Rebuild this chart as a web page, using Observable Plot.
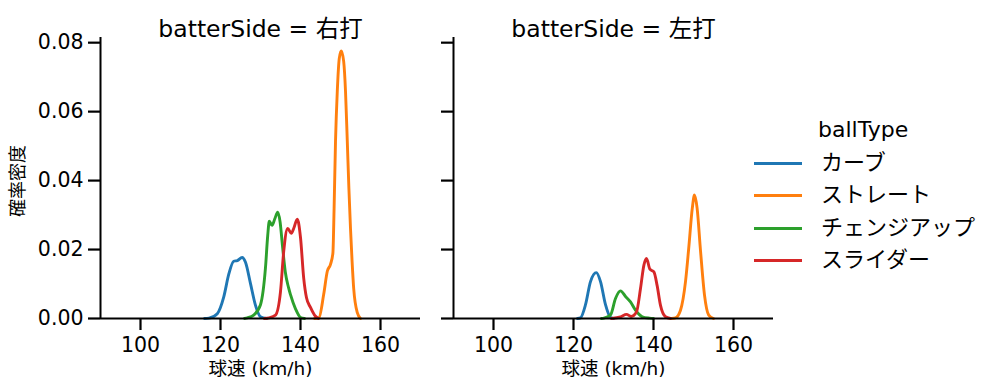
<!DOCTYPE html>
<html><head><meta charset="utf-8">
<script src="https://cdn.jsdelivr.net/npm/d3@7"></script>
<script src="https://cdn.jsdelivr.net/npm/@observablehq/plot@0.6"></script>
<style>
body{margin:0;background:#fff;font-family:"DejaVu Sans","Noto Sans CJK JP",sans-serif;}
#wrap{position:relative;width:999px;height:391px;overflow:hidden;background:#fff}
.panel{position:absolute;top:0}
.lg{position:absolute;font-size:22px;line-height:32px;height:32px;white-space:nowrap;color:#000}
.sw{position:absolute;width:48px;height:3px}
</style></head><body><div id="wrap"></div>
<script>
const FONT = '"DejaVu Sans", "Noto Sans CJK JP", sans-serif';
const categories = ["カーブ", "ストレート", "チェンジアップ", "スライダー"];
const colors = ["#1f77b4", "#ff7f0e", "#2ca02c", "#d62728"];
const facets = ["右打", "左打"];
const speedTicks = [100, 120, 140, 160];
const densityTicks = [0, 0.02, 0.04, 0.06, 0.08];

// 右打
const rCurveSpeed   = [116, 117.1, 119.2, 120.8, 122.1, 123.3, 124.2, 125.4, 126.25, 127.5, 128.75, 130, 131.5];
const rCurveDensity = [0, 0.0001, 0.0014, 0.0062, 0.013, 0.0166, 0.0168, 0.0177, 0.0163, 0.0101, 0.0038, 0.0005, 0];
const rStraightSpeed   = [143.5, 144.6, 145.8, 146.7, 147.5, 148.1, 148.4, 148.75, 149.2, 149.7, 150.2, 150.8, 151.25, 151.7, 152.1, 152.5, 152.9, 153.3, 154.2, 155];
const rStraightDensity = [0, 0.0002, 0.007, 0.0137, 0.0157, 0.019, 0.032, 0.0513, 0.066, 0.0755, 0.0776, 0.0745, 0.066, 0.0513, 0.0377, 0.0261, 0.0165, 0.0087, 0.0017, 0];
const rChangeSpeed   = [126, 126.7, 128.3, 130, 131.25, 131.8, 132.2, 132.9, 133.6, 134.3, 134.9, 135.5, 136.2, 137, 137.5, 138.75, 140, 141];
const rChangeDensity = [0, 0.0002, 0.001, 0.004, 0.0148, 0.024, 0.0282, 0.027, 0.029, 0.0308, 0.028, 0.021, 0.0135, 0.009, 0.0069, 0.0028, 0.0003, 0];
const rSliderSpeed   = [131, 132.1, 133.75, 135, 135.8, 136.8, 137.7, 138.3, 139.2, 140, 140.8, 141.5, 142.5, 143.5, 144.5];
const rSliderDensity = [0, 0.0002, 0.001, 0.0078, 0.0194, 0.0261, 0.0247, 0.0261, 0.0288, 0.0235, 0.0117, 0.006, 0.0032, 0.001, 0];

// 左打
const lCurveSpeed   = [121, 121.75, 123, 124.25, 125.7, 126.75, 128, 129.25, 130];
const lCurveDensity = [0, 0.0002, 0.004, 0.0107, 0.0133, 0.0107, 0.004, 0.0003, 0];
const lStraightSpeed   = [144.5, 145.5, 146.75, 148, 148.8, 149.7, 150.25, 150.9, 151.75, 152.75, 153.8, 155];
const lStraightDensity = [0, 0.0002, 0.0024, 0.0107, 0.0203, 0.032, 0.0358, 0.032, 0.0197, 0.0068, 0.001, 0];
const lChangeSpeed   = [127, 127.6, 129.25, 130.5, 131.75, 133, 134.25, 135.5, 137.2, 139, 140];
const lChangeDensity = [0, 0.0001, 0.001, 0.0058, 0.008, 0.0064, 0.0048, 0.0024, 0.0005, 0.0001, 0];
const lSliderSpeed   = [129.5, 131.75, 133.25, 134.4, 135.75, 136.75, 137.6, 138.25, 139.1, 140.1, 140.9, 141.75, 143, 144.25];
const lSliderDensity = [0, 0.0005, 0.0012, 0.0006, 0.0019, 0.0087, 0.0155, 0.0174, 0.0143, 0.0135, 0.0096, 0.0038, 0.0005, 0];

function rows(type, speeds, dens) {
  return speeds.map((s, i) => ({ballType: type, speed: s, density: dens[i]}));
}
const dataR = [
  ...rows(categories[0], rCurveSpeed, rCurveDensity),
  ...rows(categories[1], rStraightSpeed, rStraightDensity),
  ...rows(categories[2], rChangeSpeed, rChangeDensity),
  ...rows(categories[3], rSliderSpeed, rSliderDensity)
];
const dataL = [
  ...rows(categories[0], lCurveSpeed, lCurveDensity),
  ...rows(categories[1], lStraightSpeed, lStraightDensity),
  ...rows(categories[2], lChangeSpeed, lChangeDensity),
  ...rows(categories[3], lSliderSpeed, lSliderDensity)
];

function panel(side, data, first) {
  const marks = [
    Plot.line(data, {x: "speed", y: "density", z: "ballType", stroke: "ballType", curve: "monotone-x", strokeWidth: 2.9}),
    Plot.ruleX([90], {strokeWidth: 2}),
    Plot.ruleY([0], {strokeWidth: 2}),
    Plot.axisX({ticks: speedTicks, tickSize: 12, tickPadding: 7, fontSize: 20.5, strokeWidth: 2.2, label: null, tickFormat: d => String(d)}),
    Plot.axisY({ticks: densityTicks, tickSize: 12, tickPadding: 5, fontSize: 20.5, strokeWidth: 2.2, label: null,
      tickFormat: first ? d3.format(".2f") : () => ""}),
    Plot.text([`batterSide = ${side}`], {frameAnchor: "top", dy: -17, fontSize: 23.5}),
    Plot.text(["球速 (km/h)"], {frameAnchor: "bottom", dy: 56, fontSize: 18.5})
  ];
  if (first) marks.push(Plot.text(["確率密度"], {frameAnchor: "left", textAnchor: "middle", dx: -82, dy: 3, rotate: -90, fontSize: 18}));
  return Plot.plot({
    width: 420, height: 391,
    marginLeft: 100, marginRight: 0, marginTop: 37, marginBottom: 73,
    style: {fontFamily: FONT, background: "transparent", color: "#000", overflow: "visible"},
    x: {domain: [90, 170]},
    y: {domain: [0, 0.0815]},
    color: {domain: categories, range: colors},
    marks
  });
}

const wrap = document.getElementById("wrap");
const p1 = panel(facets[0], dataR, true);
p1.classList.add("panel"); p1.style.left = "0px";
const p2 = panel(facets[1], dataL, false);
p2.classList.add("panel"); p2.style.left = "353px";
wrap.appendChild(p1); wrap.appendChild(p2);

// legend
const t = document.createElement("div");
t.className = "lg"; t.textContent = "ballType";
t.style.left = "818px"; t.style.top = (130 - 16) + "px";
wrap.appendChild(t);
const ys = [163, 195, 228, 260];
categories.forEach((c, i) => {
  const sw = document.createElement("div");
  sw.className = "sw"; sw.style.background = colors[i];
  sw.style.left = "754px"; sw.style.top = (ys[i] - 1.5) + "px";
  wrap.appendChild(sw);
  const tx = document.createElement("div");
  tx.className = "lg"; tx.textContent = c;
  tx.style.left = "821px"; tx.style.top = (ys[i] - 16) + "px";
  wrap.appendChild(tx);
});
</script></body></html>
